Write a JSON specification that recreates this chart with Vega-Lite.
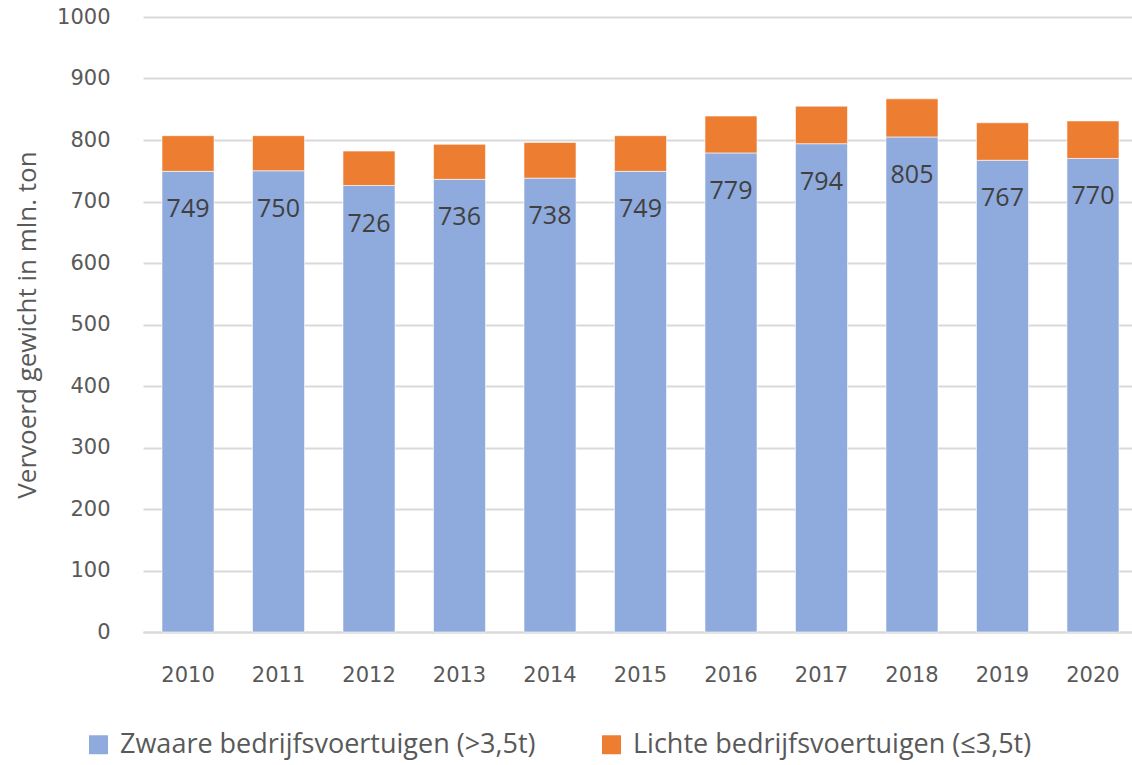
{
  "$schema": "https://vega.github.io/schema/vega-lite/v6.json",
  "autosize": {"type": "none"},
  "width": 989,
  "height": 615,
  "padding": {"left": 143, "top": 17, "right": 0, "bottom": 133},
  "background": "white",
  "config": {
    "font": "Open Sans",
    "view": {"stroke": null}
  },
  "data": {
    "values": [
      {"jaar": "2010", "type": "Zwaare bedrijfsvoertuigen (>3,5t)", "waarde": 749},
      {"jaar": "2011", "type": "Zwaare bedrijfsvoertuigen (>3,5t)", "waarde": 750},
      {"jaar": "2012", "type": "Zwaare bedrijfsvoertuigen (>3,5t)", "waarde": 726},
      {"jaar": "2013", "type": "Zwaare bedrijfsvoertuigen (>3,5t)", "waarde": 736},
      {"jaar": "2014", "type": "Zwaare bedrijfsvoertuigen (>3,5t)", "waarde": 738},
      {"jaar": "2015", "type": "Zwaare bedrijfsvoertuigen (>3,5t)", "waarde": 749},
      {"jaar": "2016", "type": "Zwaare bedrijfsvoertuigen (>3,5t)", "waarde": 779},
      {"jaar": "2017", "type": "Zwaare bedrijfsvoertuigen (>3,5t)", "waarde": 794},
      {"jaar": "2018", "type": "Zwaare bedrijfsvoertuigen (>3,5t)", "waarde": 805},
      {"jaar": "2019", "type": "Zwaare bedrijfsvoertuigen (>3,5t)", "waarde": 767},
      {"jaar": "2020", "type": "Zwaare bedrijfsvoertuigen (>3,5t)", "waarde": 770},
      {"jaar": "2010", "type": "Lichte bedrijfsvoertuigen (≤3,5t)", "waarde": 58},
      {"jaar": "2011", "type": "Lichte bedrijfsvoertuigen (≤3,5t)", "waarde": 57},
      {"jaar": "2012", "type": "Lichte bedrijfsvoertuigen (≤3,5t)", "waarde": 56},
      {"jaar": "2013", "type": "Lichte bedrijfsvoertuigen (≤3,5t)", "waarde": 57},
      {"jaar": "2014", "type": "Lichte bedrijfsvoertuigen (≤3,5t)", "waarde": 58},
      {"jaar": "2015", "type": "Lichte bedrijfsvoertuigen (≤3,5t)", "waarde": 58},
      {"jaar": "2016", "type": "Lichte bedrijfsvoertuigen (≤3,5t)", "waarde": 60},
      {"jaar": "2017", "type": "Lichte bedrijfsvoertuigen (≤3,5t)", "waarde": 61},
      {"jaar": "2018", "type": "Lichte bedrijfsvoertuigen (≤3,5t)", "waarde": 62},
      {"jaar": "2019", "type": "Lichte bedrijfsvoertuigen (≤3,5t)", "waarde": 61},
      {"jaar": "2020", "type": "Lichte bedrijfsvoertuigen (≤3,5t)", "waarde": 61}
    ]
  },
  "encoding": {
    "x": {
      "field": "jaar",
      "type": "ordinal",
      "scale": {"paddingInner": 0.425, "paddingOuter": 0.21, "range": [0, 995]},
      "axis": {
        "title": null,
        "labelAngle": 0,
        "labelFont": "DejaVu Sans",
        "labelFontSize": 21,
        "labelColor": "#595959",
        "labelPadding": 32,
        "ticks": false,
        "domain": true,
        "domainColor": "#d9d9d9",
        "domainWidth": 2
      }
    }
  },
  "layer": [
    {
      "mark": {"type": "bar", "stroke": "white", "strokeWidth": 1, "strokeOpacity": 0.6},
      "encoding": {
        "y": {
          "field": "waarde",
          "type": "quantitative",
          "stack": "zero",
          "scale": {"domain": [0, 1000], "nice": false},
          "axis": {
            "title": "Vervoerd gewicht in mln. ton",
            "titleFont": "Open Sans",
            "titleFontSize": 26,
            "titleFontWeight": "normal",
            "titleColor": "#595959",
            "titlePadding": 16,
            "values": [0, 100, 200, 300, 400, 500, 600, 700, 800, 900, 1000],
            "format": "d",
            "labelFont": "DejaVu Sans",
            "labelFontSize": 21,
            "labelColor": "#595959",
            "labelPadding": 33,
            "ticks": false,
            "domain": false,
            "grid": true,
            "gridColor": "#d9d9d9",
            "gridWidth": 2
          }
        },
        "color": {
          "field": "type",
          "type": "nominal",
          "sort": ["Zwaare bedrijfsvoertuigen (>3,5t)", "Lichte bedrijfsvoertuigen (≤3,5t)"],
          "scale": {
            "domain": ["Zwaare bedrijfsvoertuigen (>3,5t)", "Lichte bedrijfsvoertuigen (≤3,5t)"],
            "range": ["#8faadc", "#ed7d31"]
          },
          "legend": {
            "title": null,
            "orient": "none",
            "legendX": -58,
            "legendY": 714,
            "direction": "horizontal",
            "symbolType": "square",
            "symbolSize": 360,
            "symbolStrokeWidth": 0,
            "labelFont": "Open Sans",
            "labelFontSize": 27,
            "labelColor": "#595959",
            "labelOffset": 8,
            "columnPadding": 62,
            "labelLimit": 600
          }
        }
      }
    },
    {
      "transform": [{"filter": "datum.type === 'Zwaare bedrijfsvoertuigen (>3,5t)'"}],
      "mark": {"type": "text", "baseline": "middle", "dy": 38, "font": "Open Sans", "fontSize": 25, "color": "#404040"},
      "encoding": {
        "y": {"field": "waarde", "type": "quantitative"},
        "text": {"field": "waarde", "type": "quantitative"}
      }
    }
  ]
}
